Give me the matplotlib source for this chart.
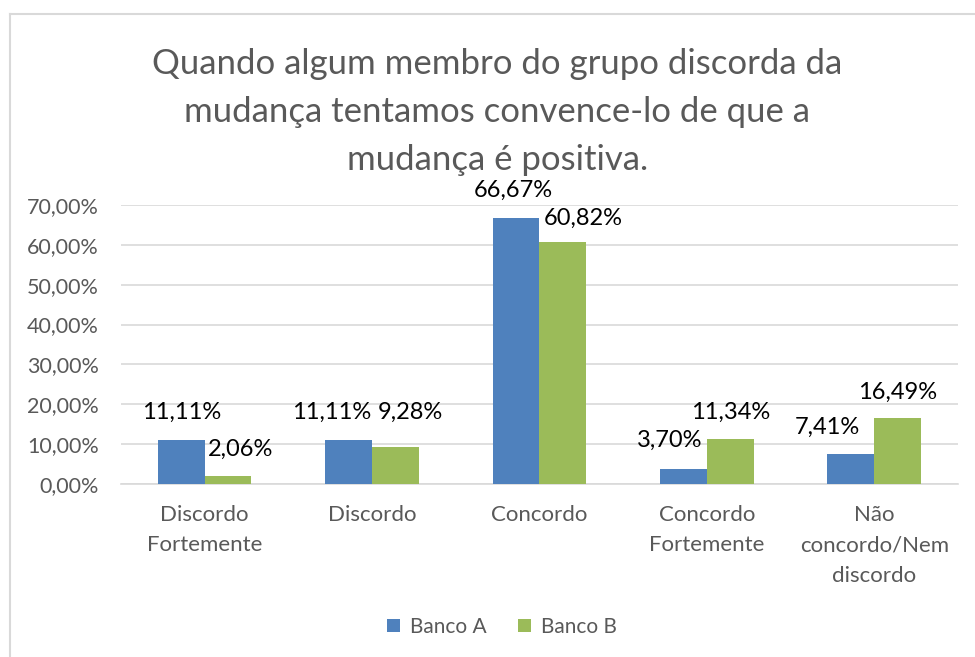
import matplotlib.pyplot as plt
from matplotlib.lines import Line2D
import numpy as np

categorias = ['Discordo\nFortemente', 'Discordo', 'Concordo',
              'Concordo\nFortemente', 'Não\nconcordo/Nem\ndiscordo']
banco_a = [11.11, 11.11, 66.67, 3.70, 7.41]
banco_b = [2.06, 9.28, 60.82, 11.34, 16.49]
titulo = 'Quando algum membro do grupo discorda da\nmudança tentamos convence-lo de que a\nmudança é positiva.'

# deslocamentos dos rotulos (pontos), imitando o excel
off_a = [(0, 20), (-12, 20), (-2, 20), (-10, 21), (-17, 19.5)]
off_b = [(9, 19), (11, 25), (15, 17), (0, 19), (0, 19)]

plt.rcParams['font.family'] = ['Lato', 'DejaVu Sans']

fig = plt.figure(figsize=(9.75, 6.57), dpi=100)
ax = fig.add_axes([0.124, 0.2633, 0.8586, 0.4247])

x = np.arange(len(categorias))
w = 0.28
azul = '#4F81BD'
verde = '#9BBB59'
ax.bar(x - w / 2, banco_a, w, color=azul, label='Banco A', zorder=3)
ax.bar(x + w / 2, banco_b, w, color=verde, label='Banco B', zorder=3)

for i in range(len(x)):
    ax.annotate(f'{banco_a[i]:.2f}%'.replace('.', ','), (x[i] - w / 2, banco_a[i]),
                xytext=off_a[i], textcoords='offset points', ha='center', va='center',
                fontsize=17, color='black')
    ax.annotate(f'{banco_b[i]:.2f}%'.replace('.', ','), (x[i] + w / 2, banco_b[i]),
                xytext=off_b[i], textcoords='offset points', ha='center', va='center',
                fontsize=17, color='black')

ax.set_xlim(-0.5, len(x) - 0.5)
ax.set_ylim(0, 70)
ax.set_yticks(np.arange(0, 71, 10))
ax.set_yticklabels([f'{v:.2f}%'.replace('.', ',') for v in np.arange(0, 71, 10)])
ax.set_xticks(x)
ax.set_xticklabels(categorias, linespacing=1.65)
ax.tick_params(axis='y', length=0, labelsize=15.5, colors='#595959', pad=16)
ax.tick_params(axis='x', length=0, labelsize=16, colors='#595959', pad=15)
ax.yaxis.grid(True, color='#D9D9D9', linewidth=1.2, zorder=0)
for s in ['top', 'right', 'left']:
    ax.spines[s].set_visible(False)
ax.spines['bottom'].set_color('#D9D9D9')
ax.spines['bottom'].set_linewidth(1.2)

fig.text(0.51, 0.927, titulo, ha='center', va='top', fontsize=25,
         color='#595959', linespacing=1.62)

ax.legend(loc='center', bbox_to_anchor=(0.515, 0.046), bbox_transform=fig.transFigure,
          ncol=2, frameon=False, fontsize=15, labelcolor='#595959',
          handlelength=0.6, handleheight=0.6, columnspacing=1.5, handletextpad=0.5)

# moldura do grafico
fig.add_artist(Line2D([10 / 975, 1], [1 - 14 / 657, 1 - 14 / 657], color='#D9D9D9', lw=1.5))
fig.add_artist(Line2D([10 / 975, 10 / 975], [0, 1 - 14 / 657], color='#D9D9D9', lw=1.5))

fig.savefig('out.png', dpi=100)
